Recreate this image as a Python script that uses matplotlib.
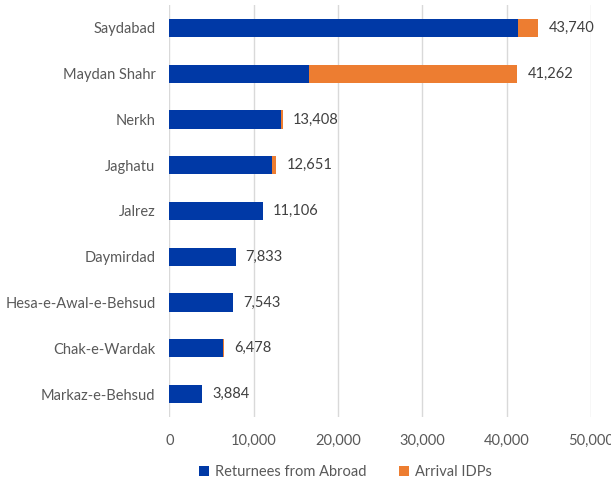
import matplotlib.pyplot as plt
from matplotlib.ticker import FuncFormatter

districts = ['Saydabad', 'Maydan Shahr', 'Nerkh', 'Jaghatu', 'Jalrez',
             'Daymirdad', 'Hesa-e-Awal-e-Behsud', 'Chak-e-Wardak', 'Markaz-e-Behsud']
totals = [43740, 41262, 13408, 12651, 11106, 7833, 7543, 6478, 3884]
returnees = [41350, 16570, 13250, 12170, 11106, 7833, 7543, 6330, 3884]
idps = [t - r for t, r in zip(totals, returnees)]

plt.rcParams['font.family'] = ['Lato', 'DejaVu Sans']
text_col = '#595959'

fig = plt.figure(figsize=(6.11, 4.86), dpi=100)
ax = fig.add_axes([0.2774, 0.142, 0.6899, 0.8477])

y = list(range(len(districts)))
ax.barh(y, returnees, height=0.4, color='#0039A6', label='Returnees from Abroad', zorder=3)
ax.barh(y, idps, left=returnees, height=0.4, color='#ED7D31', label='Arrival IDPs', zorder=3)

for yi, t in zip(y, totals):
    ax.text(t + 1200, yi, f'{t:,}', va='center', ha='left', fontsize=10.5, color='#404040')

ax.set_ylim(len(districts) - 0.5, -0.5)
ax.set_xlim(0, 50000)
ax.set_xticks(range(0, 50001, 10000))
ax.xaxis.set_major_formatter(FuncFormatter(lambda v, p: f'{int(v):,}'))
ax.set_yticks(y)
ax.set_yticklabels(districts)
ax.tick_params(axis='both', length=0, labelsize=10.5, labelcolor=text_col)
ax.tick_params(axis='x', pad=12)
ax.tick_params(axis='y', pad=10)
ax.grid(axis='x', color='#D9D9D9', linewidth=1, zorder=0)
for s in ax.spines.values():
    s.set_visible(False)

fig.legend(loc='center', bbox_to_anchor=(0.565, 0.029), ncol=2, frameon=False,
           fontsize=10.5, labelcolor=text_col, handlelength=0.7, handleheight=0.7,
           columnspacing=2.2, handletextpad=0.4)

fig.savefig('out.png', dpi=100)
